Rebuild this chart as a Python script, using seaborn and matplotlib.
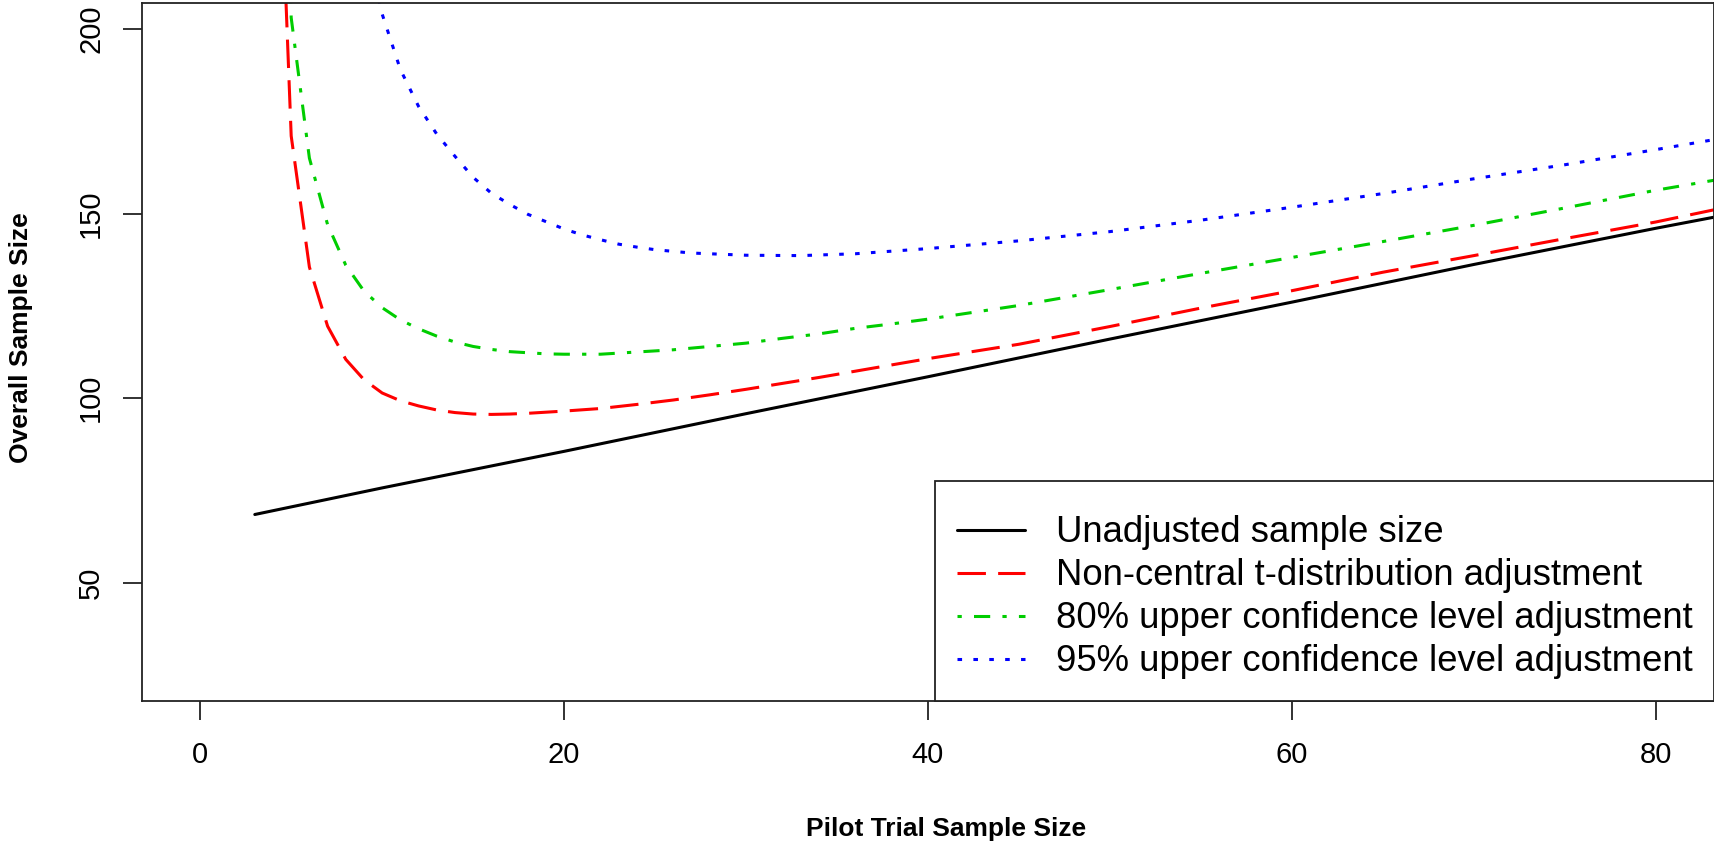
import matplotlib
matplotlib.use("Agg")
import matplotlib.pyplot as plt
import seaborn as sns

# Pilot trial size vs. overall (pilot + main) sample size, per adjustment method
unadj_x = [3, 10, 20, 30, 40, 50, 60, 70, 80, 83.2]
unadj_y = [68.5, 75.7, 85.6, 95.8, 105.8, 116.0, 126.0, 136.2, 146.0, 149.0]

nct_x = [4, 5, 6, 7, 8, 9, 10, 11, 12, 13, 14, 15, 16, 17, 18, 20, 22, 24, 26, 28,
         30, 32, 34, 36, 38, 40, 45, 50, 55, 60, 65, 70, 75, 80, 83.2]
nct_y = [298, 171, 135.5, 119.5, 110.5, 105, 101.4, 99.3, 97.9, 96.8, 96.1, 95.7, 95.6,
         95.7, 95.9, 96.5, 97.2, 98.3, 99.5, 100.9, 102.4, 104.0, 105.6, 107.3, 109.0,
         110.7, 114.6, 119.4, 124.4, 129.1, 134.1, 138.6, 143.2, 147.7, 151.0]

ucl80_x = [4, 5, 6, 7, 8, 9, 10, 11, 12, 13, 14, 15, 16, 17, 18, 19, 20, 22, 24, 26,
           28, 30, 32, 34, 36, 38, 40, 45, 50, 55, 60, 65, 70, 75, 80, 83.2]
ucl80_y = [400, 203, 165, 147, 136, 129, 124.5, 121.2, 118.8, 116.8, 115.2, 114.0,
           113.2, 112.6, 112.3, 112.0, 111.9, 111.9, 112.5, 113.1, 114.0, 114.9, 116.2,
           117.4, 118.9, 120.1, 121.4, 125.1, 129.4, 133.8, 138.1, 142.4, 146.8, 151.5,
           156.3, 159.0]

ucl95_x = [9, 10, 11, 12, 13, 14, 15, 16, 17, 18, 19, 20, 21, 22, 23, 24, 25, 27, 30,
           33, 36, 40, 45, 50, 55, 60, 65, 70, 75, 80, 83.2]
ucl95_y = [225, 204, 189, 179, 171.5, 165.5, 159.8, 155.5, 152.5, 149.8, 147.8, 145.8,
           144.2, 142.9, 141.7, 140.9, 140.2, 139.3, 138.7, 138.6, 139.1, 140.5, 142.6,
           145.1, 148.2, 151.7, 155.4, 159.4, 163.2, 167.3, 170.0]

labels = ["Unadjusted sample size",
          "Non-central t-distribution adjustment",
          "80% upper confidence level adjustment",
          "95% upper confidence level adjustment"]
colors = ["black", "#FF0000", "#00CD00", "#0000FF"]
x_ticks = [0, 20, 40, 60, 80]
y_ticks = [50, 100, 150, 200]

sns.set_theme(style="white")
plt.rcParams["font.family"] = ["Liberation Sans", "DejaVu Sans"]
plt.rcParams["text.color"] = "black"
plt.rcParams["axes.labelcolor"] = "black"

fig = plt.figure(figsize=(17.15, 8.46), dpi=100)
ax = fig.add_axes([142 / 1715, 1 - 701 / 846, (1714 - 142) / 1715, (701 - 3) / 846])

lw = 2.2
styles = [
    "solid",
    (0, (9.3, 4.0)),                  # long dash
    (0, (1.4, 4.0, 5.3, 4.0)),        # dot-dash
    (0, (1.5, 3.7)),                  # dotted
]
series = [(unadj_x, unadj_y), (nct_x, nct_y), (ucl80_x, ucl80_y), (ucl95_x, ucl95_y)]
for (xs, ys), lab, col, ls in zip(series, labels, colors, styles):
    sns.lineplot(x=xs, y=ys, ax=ax, color=col, linewidth=lw, linestyle=ls,
                 label=lab, errorbar=None, sort=False, dash_capstyle="butt")

ax.set_xlim(-3.2, 83.2)
ax.set_ylim(18, 207)
ax.set_xticks(x_ticks)
ax.set_yticks(y_ticks)
ax.set_xticklabels([str(v) for v in x_ticks])
ax.set_yticklabels([str(v) for v in y_ticks], rotation=90, va="center")

for sp in ax.spines.values():
    sp.set_visible(True)
    sp.set_color("#222222")
    sp.set_linewidth(1.3)

ax.tick_params(axis="both", which="major", direction="out", length=13.5, width=1.3,
               color="#222222", labelsize=21, labelcolor="black",
               bottom=True, left=True, top=False, right=False)
ax.tick_params(axis="x", pad=15)
ax.tick_params(axis="y", pad=13)

ax.set_xlabel("Pilot Trial Sample Size", fontsize=19, fontweight="bold", color="black")
ax.set_ylabel("Overall Sample Size", fontsize=19, fontweight="bold", color="black")
ax.xaxis.label.set_va("center")
ax.yaxis.label.set_va("center")
ax.xaxis.set_label_coords(0.5115, -0.1834)
ax.yaxis.set_label_coords(-0.077, 0.520)

# a tiny blank title adds a little extra space above the first entry
leg = ax.legend(loc="lower right", bbox_to_anchor=(1.0, 0.0), borderaxespad=0,
                fontsize=26.3, frameon=True, fancybox=False, shadow=False,
                framealpha=1, edgecolor="#222222", handlelength=1.86,
                handletextpad=0.85, borderpad=0.59, labelspacing=0.22,
                title=" ", title_fontsize=3.5, labelcolor="black")
leg.get_frame().set_linewidth(1.3)

fig.savefig("out.png", dpi=100, facecolor="white")
